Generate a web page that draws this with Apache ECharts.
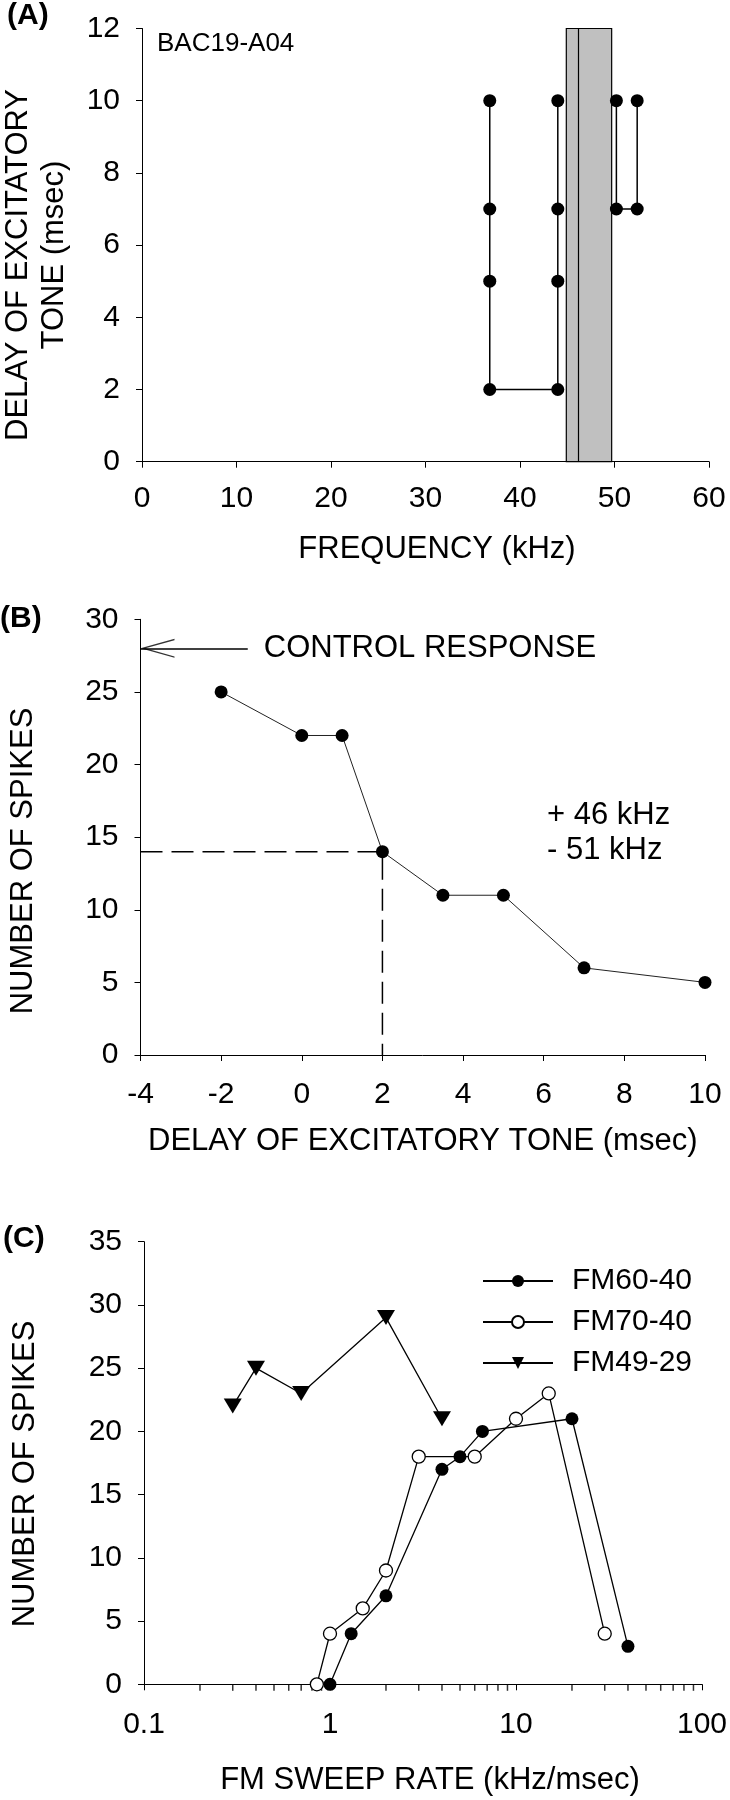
<!DOCTYPE html>
<html><head><meta charset="utf-8">
<script src="https://cdn.jsdelivr.net/npm/echarts@6/dist/echarts.min.js"></script>
<style>html,body{margin:0;padding:0;background:#fff}#c{width:730px;height:1800px}</style>
</head><body><div id="c"></div>
<script>
// ---------- Panel A data ----------
const aLowFreq   = [36.8, 36.8, 36.8, 36.8, 44, 44, 44, 44];
const aLowDelay  = [10, 7, 5, 2, 2, 5, 7, 10];
const aHighFreq  = [50.2, 50.2, 52.4, 52.4];
const aHighDelay = [10, 7, 7, 10];
const aBand      = [44.9, 49.7];
const aBandLine  = 46.2;
const aLabel     = 'BAC19-A04';
// ---------- Panel B data ----------
const bDelay  = [-2, 0, 1, 2, 3.5, 5, 7, 10];
const bSpikes = [25, 22, 22, 14, 11, 11, 6, 5];
const bControl = 28;
const bControlTail = -1.34;
const bThreshDelay = 2;
const bThreshSpikes = 14;
const bNote = '+ 46 kHz\n- 51 kHz';
// ---------- Panel C data ----------
const c6040Rate   = [1, 1.3, 2, 4, 5, 6.6, 20, 40];
const c6040Spikes = [0, 4, 7, 17, 18, 20, 21, 3];
const c7040Rate   = [0.85, 1, 1.5, 2, 3, 6, 10, 15, 30];
const c7040Spikes = [0, 4, 6, 9, 18, 18, 21, 23, 4];
const c4929Rate   = [0.3, 0.4, 0.7, 2, 4];
const c4929Spikes = [22, 25, 23, 29, 21];
const cMinorTicks = [0.2,0.3,0.4,0.5,0.6,0.7,0.8,0.9,2,3,4,5,6,7,8,9,20,30,40,50,60,70,80,90];

const zip = (xs, ys) => xs.map((x, i) => [x, ys[i]]);
const FF = "'Liberation Sans', Arial, sans-serif";
const BLACK = '#000';

function xAx(grid, o) {
  return Object.assign({
    gridIndex: grid, type: 'value', position: 'bottom',
    axisLine: {show: true, onZero: false, lineStyle: {color: BLACK, width: 1}},
    axisTick: {show: true, inside: false, length: 6, lineStyle: {color: BLACK, width: 1}},
    axisLabel: {fontSize: 30, color: BLACK, fontFamily: FF, margin: 22},
    splitLine: {show: false},
    nameLocation: 'middle',
    nameTextStyle: {fontSize: 31, color: BLACK, fontFamily: FF}
  }, o);
}
function yAx(grid, o) {
  return Object.assign({
    gridIndex: grid, type: 'value',
    axisLine: {show: true, onZero: false, lineStyle: {color: BLACK, width: 1}},
    axisTick: {show: true, inside: false, length: 6, lineStyle: {color: BLACK, width: 1}},
    axisLabel: {fontSize: 30, color: BLACK, fontFamily: FF, margin: 22},
    splitLine: {show: false}
  }, o);
}
function vText(text, x, y) {
  return {type: 'text', x: x, y: y, rotation: Math.PI / 2,
    style: {text: text, fontSize: 31, fontFamily: FF, fill: BLACK, align: 'center', verticalAlign: 'middle'}};
}

const arrowPath = 'path://M9.5,0L19,34L17.6,34L9.5,5L1.4,34L0,34Z';

const option = {
  animation: false,
  backgroundColor: '#fff',
  textStyle: {fontFamily: FF},
  grid: [
    {left: 142, right: 21, top: 28.5, height: 433.2},
    {left: 140.5, right: 25, top: 619.3, height: 435.7},
    {left: 144, right: 22.5, top: 1241.7, height: 442.6}
  ],
  xAxis: [
    xAx(0, {min: 0, max: 60, interval: 10, name: 'FREQUENCY (kHz)', nameGap: 72,
      nameTextStyle: {fontSize: 31, color: BLACK, fontFamily: FF, padding: [0, 0, 0, 23]}}),
    xAx(1, {min: -4, max: 10, interval: 2, name: 'DELAY OF EXCITATORY TONE (msec)', nameGap: 71,
      axisLabel: {fontSize: 30, color: BLACK, fontFamily: FF, margin: 25}}),
    xAx(2, {type: 'log', logBase: 10, min: 0.1, max: 100, name: 'FM SWEEP RATE (kHz/msec)', nameGap: 81,
      axisLabel: {fontSize: 30, color: BLACK, fontFamily: FF, margin: 25},
      nameTextStyle: {fontSize: 31, color: BLACK, fontFamily: FF, padding: [0, 0, 0, 14]}})
  ],
  yAxis: [
    yAx(0, {min: 0, max: 12, interval: 2}),
    yAx(1, {min: 0, max: 30, interval: 5}),
    yAx(2, {min: 0, max: 35, interval: 5})
  ],
  legend: {
    orient: 'vertical', left: 477, top: 1261,
    itemWidth: 70, itemHeight: 15, itemGap: 11,
    textStyle: {fontSize: 30, color: BLACK, fontFamily: FF, lineHeight: 30, padding: [0, 0, 0, 14]},
    data: ['FM60-40', 'FM70-40', 'FM49-29'],
    selectedMode: false
  },
  series: [
    // Panel A: band
    {type: 'line', xAxisIndex: 0, yAxisIndex: 0, data: [], silent: true,
      markArea: {silent: true, itemStyle: {color: '#c0c0c0', borderColor: BLACK, borderWidth: 1.2},
        data: [[{xAxis: aBand[0], yAxis: 0}, {xAxis: aBand[1], yAxis: 12}]]},
      markLine: {silent: true, symbol: 'none', label: {show: false},
        lineStyle: {color: BLACK, width: 1.2, type: 'solid'}, data: [{xAxis: aBandLine}]}},
    {type: 'line', xAxisIndex: 0, yAxisIndex: 0, data: zip(aLowFreq, aLowDelay),
      symbol: 'circle', symbolSize: 13, clip: false,
      lineStyle: {color: BLACK, width: 1.5}, itemStyle: {color: BLACK}},
    {type: 'line', xAxisIndex: 0, yAxisIndex: 0, data: zip(aHighFreq, aHighDelay),
      symbol: 'circle', symbolSize: 13, clip: false,
      lineStyle: {color: BLACK, width: 1.5}, itemStyle: {color: BLACK}},
    // Panel B
    {type: 'line', xAxisIndex: 1, yAxisIndex: 1,
      data: [[-4, bThreshSpikes], [bThreshDelay, bThreshSpikes], [bThreshDelay, 0]],
      symbol: 'none', lineStyle: {color: BLACK, width: 1.5, type: [22, 9]}, silent: true},
    {type: 'line', xAxisIndex: 1, yAxisIndex: 1, data: zip(bDelay, bSpikes),
      symbol: 'circle', symbolSize: 13, clip: false,
      lineStyle: {color: '#222', width: 1}, itemStyle: {color: BLACK},
      markLine: {silent: true, symbol: 'none',
        lineStyle: {color: BLACK, width: 1.5, type: 'solid'},
        label: {show: true, position: 'start', distance: 16, formatter: 'CONTROL RESPONSE',
          fontSize: 31, color: BLACK, fontFamily: FF},
        data: [[{coord: [bControlTail, bControl]}, {coord: [-4, bControl]}]]}},
    {type: 'scatter', xAxisIndex: 1, yAxisIndex: 1, data: [[-4, bControl]], clip: false, silent: true,
      symbol: arrowPath, symbolSize: [19, 34], symbolRotate: 90, symbolOffset: [17, 0],
      itemStyle: {color: BLACK}},
    // Panel C minor log ticks
    {type: 'scatter', xAxisIndex: 2, yAxisIndex: 2, data: cMinorTicks.map(v => [v, 0]), clip: false, silent: true,
      symbol: 'rect', symbolSize: [1.5, 6], symbolOffset: [0, 3.5], itemStyle: {color: BLACK}, z: 3},
    // Panel C
    {name: 'FM60-40', type: 'line', xAxisIndex: 2, yAxisIndex: 2, data: zip(c6040Rate, c6040Spikes),
      symbol: 'circle', symbolSize: 13, clip: false,
      lineStyle: {color: BLACK, width: 1.3}, itemStyle: {color: BLACK}},
    {name: 'FM70-40', type: 'line', xAxisIndex: 2, yAxisIndex: 2, data: zip(c7040Rate, c7040Spikes),
      symbol: 'circle', symbolSize: 13, clip: false,
      lineStyle: {color: BLACK, width: 1.3}, itemStyle: {color: '#fff', borderColor: BLACK, borderWidth: 1.3}},
    {name: 'FM49-29', type: 'line', xAxisIndex: 2, yAxisIndex: 2, data: zip(c4929Rate, c4929Spikes),
      symbol: 'triangle', symbolRotate: 180, symbolSize: [18, 15], clip: false,
      lineStyle: {color: BLACK, width: 1.3}, itemStyle: {color: BLACK}}
  ],
  graphic: [
    {type: 'text', left: 7, top: 1, style: {text: '(A)', fontSize: 30, fontWeight: 'bold', fontFamily: FF, fill: BLACK}},
    {type: 'text', left: 0, top: 604, style: {text: '(B)', fontSize: 30, fontWeight: 'bold', fontFamily: FF, fill: BLACK}},
    {type: 'text', left: 3, top: 1224, style: {text: '(C)', fontSize: 30, fontWeight: 'bold', fontFamily: FF, fill: BLACK}},
    {type: 'text', left: 157, top: 31, style: {text: aLabel, fontSize: 26, fontFamily: FF, fill: BLACK}},
    {type: 'text', left: 547, top: 798, style: {text: bNote, fontSize: 31, fontFamily: FF, fill: BLACK, lineHeight: 35}},
    vText('DELAY OF EXCITATORY', 18, 265),
    vText('TONE (msec)', 54, 255),
    vText('NUMBER OF SPIKES', 23, 861),
    vText('NUMBER OF SPIKES', 25, 1474)
  ]
};
const chart = echarts.init(document.getElementById('c'), null, {renderer: 'canvas'});
chart.setOption(option);
</script></body></html>
